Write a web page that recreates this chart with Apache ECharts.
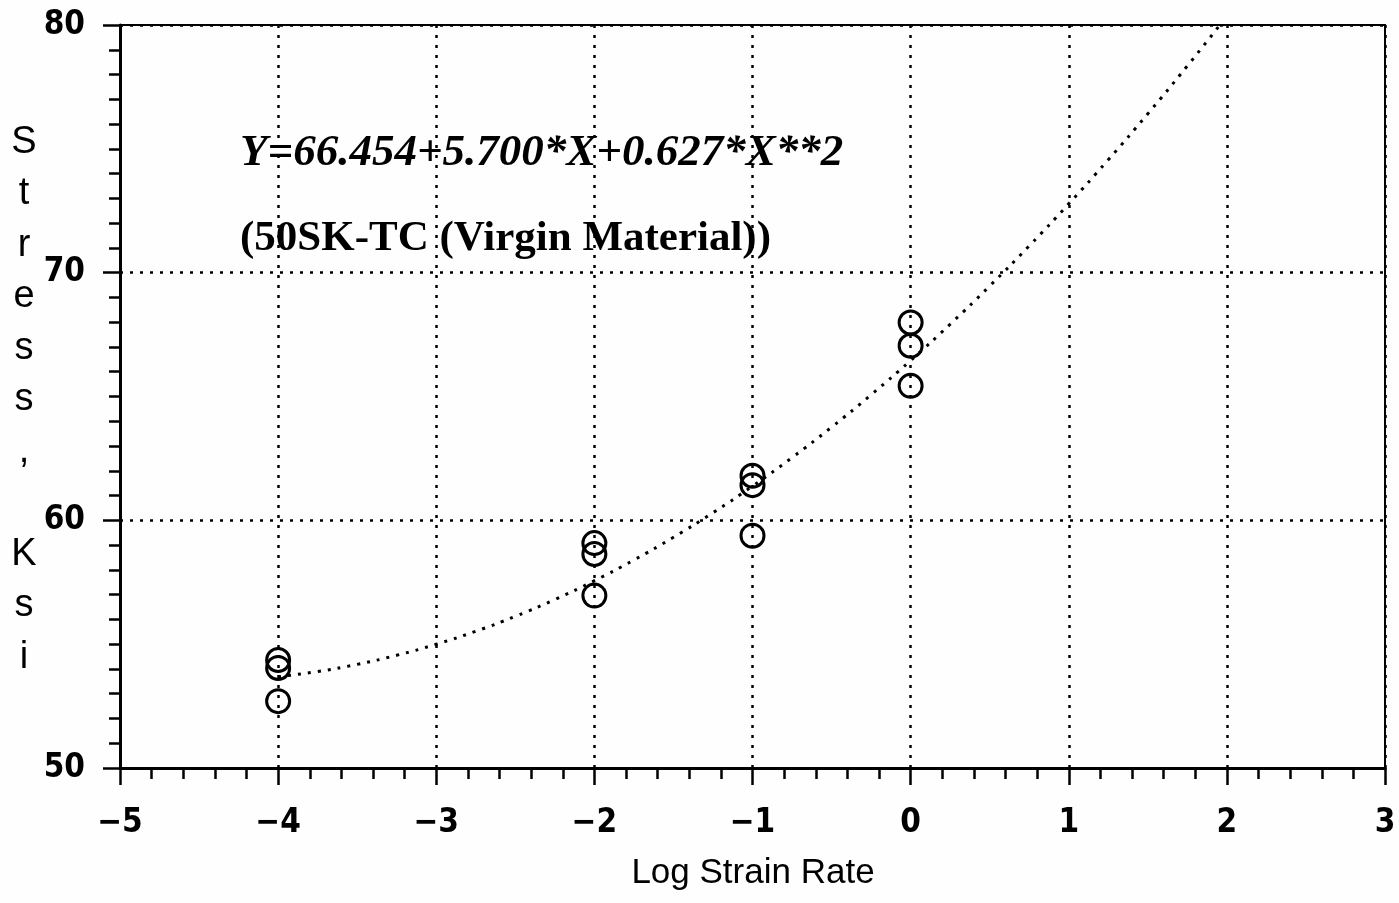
<!DOCTYPE html>
<html>
<head>
<meta charset="utf-8">
<script src="https://cdn.jsdelivr.net/npm/echarts@6/dist/echarts.min.js"></script>
<style>
  html, body { margin: 0; padding: 0; background: #fefefe; }
  #chart { width: 1399px; height: 903px; }
</style>
</head>
<body>
<div id="chart"></div>
<script>
// Measured data points (Log strain rate vs stress, ksi)
const strainX = [-4, -4, -4, -2, -2, -2, -1, -1, -1, 0, 0, 0];
const stressY = [54.36, 54.04, 52.70, 59.08, 58.64, 56.96, 61.80, 61.42, 59.38, 67.99, 67.05, 65.43];

// Fitted curve
const fitX = [-4, -3.75, -3.5, -3.25, -3, -2.75, -2.5, -2.25, -2, -1.75, -1.5, -1.25, -1,
              -0.75, -0.5, -0.25, 0, 0.25, 0.5, 0.75, 1, 1.25, 1.5, 1.75, 1.95];
const fitY = [53.686, 53.896, 54.185, 54.552, 54.997, 55.521, 56.123, 56.803, 57.562, 58.399,
              59.315, 60.309, 61.381, 62.532, 63.761, 65.068, 66.454, 67.918, 69.461, 71.082,
              72.781, 74.559, 76.415, 78.349, 79.953];

const equationText = 'Y=66.454+5.700*X+0.627*X**2';
const materialText = '(50SK-TC (Virgin Material))';
const xTitle = 'Log Strain Rate';
const yTitleLines = ['S', 't', 'r', 'e', 's', 's', ',', '', 'K', 's', 'i'];

const pts = strainX.map((x, i) => [x, stressY[i]]);
const curve = fitX.map((x, i) => [x, fitY[i]]);

const dotted = [3, 7];
const labelFont = {
  color: '#000',
  fontFamily: '"DejaVu Sans Condensed", "Liberation Sans Narrow", "Liberation Sans", sans-serif',
  fontWeight: 'bold',
  fontSize: 33
};

const chart = echarts.init(document.getElementById('chart'), null, { renderer: 'canvas' });
chart.setOption({
  backgroundColor: '#fefefe',
  animation: false,
  grid: {
    left: 120, right: 14, top: 25, bottom: 135,
    show: true, borderColor: '#000', borderWidth: 2, backgroundColor: 'transparent'
  },
  xAxis: {
    type: 'value', min: -5, max: 3, interval: 1,
    axisLine: { show: true, onZero: false, lineStyle: { color: '#000', width: 3 } },
    axisTick: { show: true, length: 17, lineStyle: { color: '#000', width: 2.5 } },
    minorTick: { show: true, splitNumber: 5, length: 11, lineStyle: { color: '#000', width: 2.5 } },
    splitLine: { show: true, lineStyle: { color: '#000', width: 2.5, type: dotted } },
    axisLabel: Object.assign({ margin: 39, formatter: v => String(v).replace('-', '\u2212') }, labelFont)
  },
  yAxis: {
    type: 'value', min: 50, max: 80, interval: 10,
    axisLine: { show: true, onZero: false, lineStyle: { color: '#000', width: 3 } },
    axisTick: { show: true, length: 17, lineStyle: { color: '#000', width: 2.5 } },
    minorTick: { show: true, splitNumber: 10, length: 11, lineStyle: { color: '#000', width: 2.5 } },
    splitLine: { show: true, lineStyle: { color: '#000', width: 2.5, type: dotted } },
    axisLabel: Object.assign({ margin: 35 }, labelFont)
  },
  graphic: [
    {
      type: 'text', left: 240, top: 131,
      style: {
        text: equationText,
        font: 'italic bold 45px "Liberation Serif", "DejaVu Serif", serif',
        fill: '#000'
      }
    },
    {
      type: 'text', left: 240, top: 217,
      style: {
        text: materialText,
        font: 'bold 43px "Liberation Serif", "DejaVu Serif", serif',
        fill: '#000'
      }
    },
    {
      type: 'text', x: 753, y: 873,
      style: {
        text: xTitle,
        font: '35px "Liberation Sans", sans-serif',
        fill: '#000', textAlign: 'center', textVerticalAlign: 'middle'
      }
    },
    {
      type: 'text', x: 24, y: 400,
      style: {
        text: yTitleLines.join('\n'),
        font: '38px "Liberation Sans", sans-serif',
        lineHeight: 51.5,
        fill: '#000', textAlign: 'center', textVerticalAlign: 'middle'
      }
    }
  ],
  series: [
    {
      type: 'line', data: curve, smooth: true, showSymbol: false, symbol: 'none',
      lineStyle: { color: '#000', width: 3, type: dotted }, z: 3
    },
    {
      type: 'scatter', data: pts, symbol: 'circle', symbolSize: 23,
      itemStyle: { color: 'rgba(0,0,0,0)', borderColor: '#000', borderWidth: 3, opacity: 1 },
      z: 4
    }
  ]
});
</script>
</body>
</html>
